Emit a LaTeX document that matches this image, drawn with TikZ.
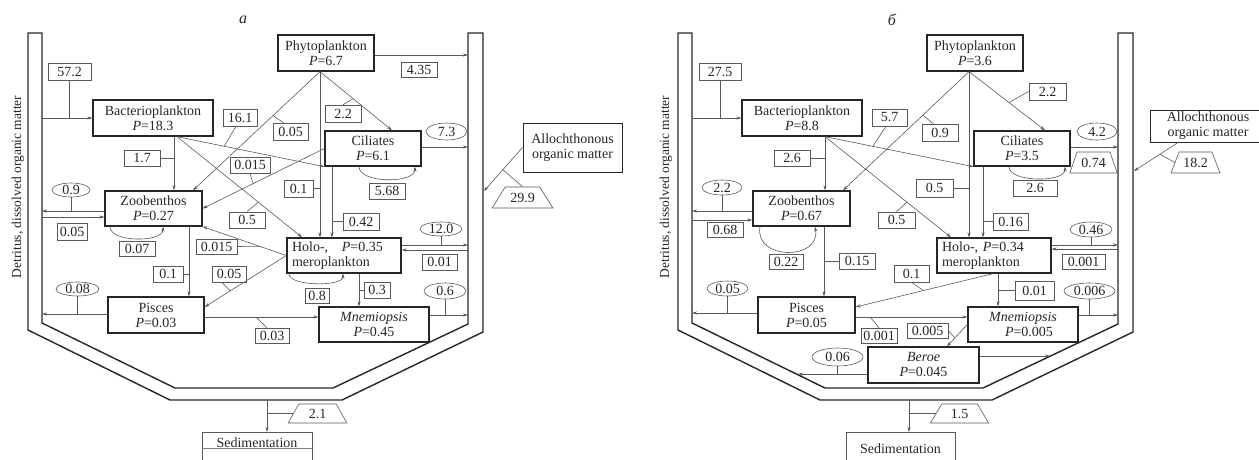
\documentclass[tikz,border=0pt]{standalone}
\usepackage{fontspec}
\setmainfont{Liberation Serif}
\usetikzlibrary{arrows.meta,shapes.geometric,calc}
\begin{document}
\begin{tikzpicture}[x=1pt,y=-1pt,
  every node/.style={font=\fontsize{14}{15}\selectfont, text=black!85},
  nbox/.style={draw=black!85, line width=1.3pt, inner sep=0pt, align=center},
  lab/.style={draw=black!65, line width=0.6pt, inner sep=0pt, minimum height=16pt},
  ell/.style={ellipse, draw=black!65, line width=0.6pt, inner sep=0pt, text height=9pt, text depth=0pt},
  trap/.style={trapezium, draw=black!65, line width=0.6pt, inner xsep=5pt, inner ysep=0pt, text height=15pt, text depth=6pt},
  ln/.style={draw=black!65, line width=0.6pt},
  arr/.style={ln, -{Stealth[length=5pt,width=3.2pt]}},
  wall/.style={draw=black!85, line width=1.4pt, line join=miter},
]
\useasboundingbox (0,0) rectangle (1259,459);

% ---------- vessels ----------
\draw[wall] (28,33) -- (28,330) -- (170,400) -- (342,400) -- (483,332) -- (483,33) -- (468,33) -- (468,324) -- (333,388) -- (175,388) -- (42,323) -- (42,33) -- cycle;
\draw[wall] (678,33) -- (678,330) -- (820,400) -- (992,400) -- (1133,332) -- (1133,33) -- (1118,33) -- (1118,324) -- (983,388) -- (825,388) -- (692,323) -- (692,33) -- cycle;

% ---------- titles and side labels ----------
\node[font=\fontsize{16}{16}\selectfont] (ta) at (243,20) {\textit{a}};
\node[font=\fontsize{16}{16}\selectfont] (tb) at (892,20) {\textit{б}};
\node[rotate=90, font=\fontsize{13.5}{14}\selectfont] (dA) at (18,187) {Detritus, dissolved organic matter};
\node[rotate=90, font=\fontsize{13.5}{14}\selectfont] (dB) at (666,187) {Detritus, dissolved organic matter};

% ================= PANEL a =================
\node[nbox, minimum width=96pt, minimum height=36pt] (phyA) at (326,53) {Phytoplankton\\\textit{P}=6.7};
\node[nbox, minimum width=120pt, minimum height=36pt] (bacA) at (153,118) {Bacterioplankton\\\textit{P}=18.3};
\node[nbox, minimum width=96pt, minimum height=35pt] (cilA) at (373,148.5) {Ciliates\\\textit{P}=6.1};
\node[nbox, minimum width=97pt, minimum height=35pt] (zooA) at (153.5,208.5) {Zoobenthos\\\textit{P}=0.27};
\node[nbox, minimum height=35pt, inner xsep=5pt, text width=104pt, align=left] (holA) at (344,255.5) {Holo-,\hspace{9pt} \textit{P}=0.35\\meroplankton};
\node[nbox, minimum width=96pt, minimum height=36pt] (pisA) at (156,315) {Pisces\\\textit{P}=0.03};
\node[nbox, minimum width=110pt, minimum height=35pt] (mneA) at (374,324.5) {\textit{Mnemiopsis}\\\textit{P}=0.45};
\node[nbox, line width=1pt, minimum width=99pt, minimum height=49pt] (allA) at (572.5,147.5) {Allochthonous\\organic matter};
\node[draw=black!65, line width=0.7pt, anchor=north, minimum width=110pt, inner sep=0pt, text height=15pt, text depth=25pt] (sedA) at (257,432) {Sedimentation};

% labels a
\node[lab, minimum width=43pt, minimum height=17pt] (l572) at (69.5,71.5) {57.2};
\node[lab, minimum width=36pt, minimum height=15pt] (l435) at (419,69.5) {4.35};
\node[lab, minimum width=36pt, minimum height=17pt] (l22a) at (343,113.5) {2.2};
\node[lab, minimum width=34pt, minimum height=17pt] (l161) at (240,117.5) {16.1};
\node[lab, minimum width=35pt, minimum height=17pt] (l005a) at (290.5,131.5) {0.05};
\node[lab, minimum width=36pt] (l17) at (142,158) {1.7};
\node[lab, minimum width=40pt] (l0015a) at (250,165) {0.015};
\node[lab, minimum width=29pt, minimum height=17pt] (l01a) at (298.5,188.5) {0.1};
\node[lab, minimum width=36pt, minimum height=17pt] (l042) at (361,221.5) {0.42};
\node[lab, minimum width=36pt] (l05a) at (247,220) {0.5};
\node[lab, minimum width=41pt, minimum height=15pt] (l0015b) at (216.5,246.5) {0.015};
\node[lab, minimum width=34pt] (l005b) at (229,274) {0.05};
\node[lab, minimum width=30pt] (l01b) at (168,274) {0.1};
\node[lab, minimum width=36pt, minimum height=15pt] (l007) at (137,248.5) {0.07};
\node[lab, minimum width=30pt, minimum height=17pt] (l005c) at (72,231.5) {0.05};
\node[lab, minimum width=34pt, minimum height=15pt] (l003) at (272,335.5) {0.03};
\node[lab, minimum width=26pt] (l03) at (377,290) {0.3};
\node[lab, minimum width=24pt, minimum height=15pt] (l08) at (317,295.5) {0.8};
\node[lab, minimum width=35pt] (l001a) at (439.5,262) {0.01};
\node[lab, minimum width=36pt] (l568) at (387,191) {5.68};
\node[ell, minimum width=38pt, minimum height=14pt] (e09) at (71,190) {0.9};
\node[ell, minimum width=43pt, minimum height=14pt] (e008) at (77.5,289) {0.08};
\node[ell, minimum width=42pt, minimum height=14pt] (e120) at (441,229) {12.0};
\node[ell, minimum width=42pt, minimum height=16pt] (e06) at (445,291) {0.6};
\node[ell, minimum width=41pt, minimum height=17pt] (e73) at (446.5,131.5) {7.3};
\node[trap, trapezium left angle=58, trapezium right angle=58, inner xsep=5pt] (t299) at (522.5,197.5) {29.9};
\node[trap, trapezium left angle=61, trapezium right angle=61, inner xsep=10pt, text height=14pt, text depth=5pt] (t21) at (317.5,413.5) {2.1};

% coordinates a
\coordinate (aW1) at (42,118);
\coordinate (aR1) at (468,55);
\coordinate (aR2) at (468,147);
\coordinate (aW2) at (42,211);
\coordinate (aW3) at (42,217);
\coordinate (aR3) at (468,245);
\coordinate (aR4) at (468,250);
\coordinate (aW4) at (42,314);
\coordinate (aR5) at (468,315);
\coordinate (aO1) at (484,191);
\coordinate (aB) at (267,400);
\coordinate (aPM) at (0,317);
\coordinate (pA) at ([xshift=-6pt]phyA.south);
\coordinate (bA) at ([xshift=24pt]bacA.south);
\coordinate (bvA) at ([xshift=21pt]bacA.south);
\coordinate (cA) at ([xshift=-41pt]cilA.south);
\coordinate (zA) at ([xshift=35.5pt]zooA.south);
\coordinate (hmA) at ([xshift=15pt]holA.south);
\coordinate (pisinA) at ([yshift=8pt]pisA.east);
\coordinate (cilTA) at ([xshift=19pt]cilA.north);
\coordinate (zooTA) at ([xshift=39.5pt]zooA.north);
\coordinate (holTA) at ([xshift=-42pt]holA.north);

% edges a
\draw[arr] (aW1) -- (bacA.west);
\draw[arr] (phyA.east |- aR1) -- (aR1);
\draw[arr] (pA) -- coordinate[pos=0.46] (c22a) (cilTA);
\draw[arr] (pA) -- (pA |- holA.north);
\draw[arr] (cA) -- (cA |- holA.north);
\draw[arr] (pA) -- coordinate[pos=0.37] (c005a) (zooTA);
\draw[arr] (bvA) -- (bvA |- zooA.north);
\draw[arr] (bA) -- coordinate[pos=0.65] (c05a) (holTA);
\draw[arr] (bA) -- coordinate[pos=0.32] (c161) (cilA.south west);
\draw[arr] (cilA.west) -- coordinate[pos=0.585] (c0015a) (zooA.east);
\draw[arr] (holA.west) -- coordinate[pos=0.305] (c0015b) (zooA.south east);
\draw[arr] (holA.west) -- coordinate[pos=0.687] (c005b) (pisinA);
\draw[arr] (zA) -- (zA |- pisA.north);
\draw[arr] ([xshift=-43.5pt]zooA.south) .. controls +(0,16) and +(0,16) .. ([xshift=9.5pt]zooA.south);
\draw[arr] (zooA.west |- aW2) -- (aW2);
\draw[arr] (aW3) -- (zooA.west |- aW3);
\draw[arr] (pisA.west |- aW4) -- (aW4);
\draw[arr] (pisA.east |- aPM) -- coordinate[pos=0.45] (c003) (mneA.west |- aPM);
\draw[arr] (hmA) -- (hmA |- mneA.north);
\draw[arr] ([xshift=-55pt]holA.south) .. controls +(0,13) and +(0,13) .. ([xshift=-1pt]holA.south);
\draw[arr] (holA.east |- aR3) -- (aR3);
\draw[arr] (aR4) -- (holA.east |- aR4);
\draw[arr] (mneA.east |- aR5) -- (aR5);
\draw[arr] (cilA.east |- aR2) -- (aR2);
\draw[arr] ([xshift=-14pt]cilA.south) .. controls +(0,17) and +(0,17) .. ([xshift=42pt]cilA.south);
\draw[arr] (allA.west) -- coordinate[pos=0.51] (c299) (aO1);
\draw[arr] (aB) -- (aB |- sedA.north);

% ticks a
\draw[ln] (l572.south) -- (l572.south |- aW1);
\draw[ln] (l22a.north) -- (c22a);
\draw[ln] (l01a.east) -- (l01a.east -| pA);
\draw[ln] (l042.west) -- (l042.west -| cA);
\draw[ln] ([xshift=-4pt]l161.south) -- (c161);
\draw[ln] ([xshift=-7pt]l005a.north) -- (c005a);
\draw[ln] (l17.east) -- (l17.east -| bvA);
\draw[ln] (l05a.north) -- (c05a);
\draw[ln] (l0015a.south) -- (c0015a);
\draw[ln] (l0015b.east) -- (c0015b);
\draw[ln] ([xshift=-7pt]l005b.south) -- (c005b);
\draw[ln] (l01b.east) -- (l01b.east -| zA);
\draw[ln] (e09.south) -- (e09.south |- aW2);
\draw[ln] (e008.south) -- (e008.south |- aW4);
\draw[ln] ([xshift=-5pt]l003.north) -- (c003);
\draw[ln] (l03.west) -- (l03.west -| hmA);
\draw[ln] (e120.south) -- (e120.south |- aR3);
\draw[ln] (e06.south) -- (e06.south |- aR5);
\draw[ln] (t299.north) -- (c299);
\draw[ln] (t21.west -| aB) -- (t21.west);
\draw[black!50, line width=0.5pt] (sedA.west |- 0,448) -- (sedA.east |- 0,448);

% ================= PANEL b =================
\node[nbox, minimum width=96pt, minimum height=36pt] (phyB) at (975,53) {Phytoplankton\\\textit{P}=3.6};
\node[nbox, minimum width=120pt, minimum height=36pt] (bacB) at (802,118) {Bacterioplankton\\\textit{P}=8.8};
\node[nbox, minimum width=96pt, minimum height=35pt] (cilB) at (1022,148.5) {Ciliates\\\textit{P}=3.5};
\node[nbox, minimum width=97pt, minimum height=35pt] (zooB) at (801.5,208.5) {Zoobenthos\\\textit{P}=0.67};
\node[nbox, minimum height=35pt, inner xsep=5pt, text width=104pt, align=left] (holB) at (994,255.5) {Holo-, \textit{P}=0.34\\meroplankton};
\node[nbox, minimum width=97pt, minimum height=36pt] (pisB) at (806.5,315) {Pisces\\\textit{P}=0.05};
\node[nbox, minimum width=110pt, minimum height=35pt] (mneB) at (1023,324.5) {\textit{Mnemiopsis}\\\hspace{12pt}\textit{P}=0.005};
\node[nbox, minimum width=111pt, minimum height=36pt] (berB) at (923.5,365) {\textit{Beroe}\\\textit{P}=0.045};
\node[nbox, line width=1pt, minimum width=116pt, minimum height=32pt] (allB) at (1208,126) {Allochthonous\\organic matter};
\node[draw=black!65, line width=0.7pt, anchor=north, minimum width=109pt, inner sep=0pt, text height=21pt, text depth=20pt] (sedB) at (900.5,432) {Sedimentation};

% labels b
\node[lab, minimum width=42pt, minimum height=17pt] (l275) at (720,71.5) {27.5};
\node[lab, minimum width=36pt] (l26a) at (792,158) {2.6};
\node[lab, minimum width=36pt, minimum height=17pt] (l09) at (940,132.5) {0.9};
\node[lab, minimum width=35pt, minimum height=17pt] (l57) at (889.5,117.5) {5.7};
\node[lab, minimum width=37pt] (l05d) at (896.5,220) {0.5};
\node[lab, minimum width=37pt, minimum height=18pt] (l05e) at (934.5,188) {0.5};
\node[lab, minimum width=35pt, minimum height=17pt] (l016) at (1010.5,221.5) {0.16};
\node[lab, minimum width=37pt, minimum height=17pt] (l22b) at (1047.5,91.5) {2.2};
\node[lab, minimum width=44pt] (l26b) at (1035,188) {2.6};
\node[lab, minimum width=36pt, minimum height=15pt] (l068) at (725,229.5) {0.68};
\node[lab, minimum width=34pt, minimum height=15pt] (l022) at (786,261.5) {0.22};
\node[lab, minimum width=36pt] (l015) at (857,261) {0.15};
\node[lab, minimum width=35pt, minimum height=17pt] (l01c) at (911.5,273.5) {0.1};
\node[lab, minimum width=39pt, minimum height=19pt] (l001b) at (1034.5,290.5) {0.01};
\node[lab, minimum width=43pt, minimum height=15pt] (l0001) at (1083.5,261.5) {0.001};
\node[lab, minimum width=36pt, minimum height=15pt] (l0001b) at (879,335.5) {0.001};
\node[lab, minimum width=41pt, minimum height=15pt] (l0005) at (927.5,330.5) {0.005};
\node[ell, minimum width=40pt, minimum height=17pt] (e42) at (1097,131.5) {4.2};
\node[ell, minimum width=40pt, minimum height=15pt] (e22) at (722,187.5) {2.2};
\node[ell, minimum width=42pt, minimum height=15pt] (e046) at (1091,229.5) {0.46};
\node[ell, minimum width=51pt, minimum height=16pt] (e0006) at (1089.5,291) {0.006};
\node[ell, minimum width=51pt, minimum height=18pt] (e006) at (837.5,357) {0.06};
\node[ell, minimum width=41pt, minimum height=15pt] (e005) at (727.5,288.5) {0.05};
\node[trap, trapezium left angle=71, trapezium right angle=71, inner xsep=4.2pt] (t074) at (1093.5,162.5) {0.74};
\node[trap, trapezium left angle=69, trapezium right angle=69, inner xsep=4.2pt] (t182) at (1195.5,162.5) {18.2};
\node[trap, trapezium left angle=59, trapezium right angle=59, inner xsep=9pt, text height=14pt, text depth=5pt] (t15) at (959.5,413.5) {1.5};

% coordinates b
\coordinate (bW1) at (692,118);
\coordinate (bR2) at (1118,147);
\coordinate (bW2) at (692,211);
\coordinate (bW3) at (692,220);
\coordinate (bR3) at (1118,245);
\coordinate (bR4) at (1118,249);
\coordinate (bW4) at (692,313);
\coordinate (bR5) at (1118,315);
\coordinate (bO1) at (1134,171);
\coordinate (bB) at (909,400);
\coordinate (bPM) at (0,317);
\coordinate (bD1) at (798,374);
\coordinate (bD2) at (1050,356);
\coordinate (pB) at ([xshift=-6pt]phyB.south);
\coordinate (bB0) at ([xshift=23pt]bacB.south);
\coordinate (zooTB) at ([xshift=41.5pt]zooB.north);
\coordinate (holTB) at ([xshift=-43pt]holB.north);
\coordinate (cB) at ([xshift=-39pt]cilB.south);
\coordinate (cilTB) at ([xshift=23pt]cilB.north);
\coordinate (zB) at ([xshift=22.5pt]zooB.south);
\coordinate (hpB) at ([xshift=-1pt]holB.south);
\coordinate (hmB) at ([xshift=4pt]holB.south);
\coordinate (pisinB) at ([yshift=8pt]pisB.east);
\coordinate (berTB) at ([xshift=23.5pt]berB.north);
\coordinate (allPB) at ([xshift=-30pt]allB.south);

% edges b
\draw[arr] (bW1) -- (bacB.west);
\draw[arr] (bB0) -- (bB0 |- zooB.north);
\draw[arr] (pB) -- coordinate[pos=0.365] (c09) (zooTB);
\draw[arr] (bB0) -- coordinate[pos=0.322] (c57) (cilB.south west);
\draw[arr] (bB0) -- coordinate[pos=0.65] (c05d) (holTB);
\draw[arr] (pB) -- (pB |- holB.north);
\draw[arr] (cB) -- (cB |- holB.north);
\draw[arr] (pB) -- coordinate[pos=0.526] (c22b) (cilTB);
\draw[arr] (cilB.east |- bR2) -- (bR2);
\draw[arr] ([xshift=-13pt]cilB.south) .. controls +(0,16) and +(0,16) .. ([xshift=43pt]cilB.south);
\draw[arr] (allPB) -- coordinate[pos=0.41] (c182) (bO1);
\draw[arr] (zooB.west |- bW2) -- (bW2);
\draw[arr] (bW3) -- (zooB.west |- bW3);
\draw[arr] ([xshift=-41.5pt]zooB.south) .. controls +(-6,34) and +(6,34) .. ([xshift=13.5pt]zooB.south);
\draw[arr] (zB) -- (zB |- pisB.north);
\draw[arr] (hpB) -- coordinate[pos=0.507] (c01c) (pisinB);
\draw[arr] (hmB) -- (hmB |- mneB.north);
\draw[arr] (holB.east |- bR3) -- (bR3);
\draw[arr] (bR4) -- (holB.east |- bR4);
\draw[arr] (mneB.east |- bR5) -- (bR5);
\draw[arr] (pisB.east |- bPM) -- coordinate[pos=0.13] (c0001b) (mneB.west |- bPM);
\draw[arr] (mneB.west) -- coordinate[pos=0.62] (c0005) (berTB);
\draw[arr] (berB.west |- bD1) -- (bD1);
\draw[arr] (berB.east |- bD2) -- (bD2);
\draw[arr] (pisB.west |- bW4) -- (bW4);
\draw[arr] (bB) -- (bB |- sedB.north);

% ticks b
\draw[ln] (l275.south) -- (l275.south |- bW1);
\draw[ln] (l26a.east) -- (l26a.east -| bB0);
\draw[ln] ([xshift=-7pt]l09.north) -- (c09);
\draw[ln] ([xshift=-3.5pt]l57.south) -- (c57);
\draw[ln] (l05d.north) -- (c05d);
\draw[ln] (l05e.east) -- (l05e.east -| pB);
\draw[ln] (l016.west) -- (l016.west -| cB);
\draw[ln] (l22b.west) -- (c22b);
\draw[ln] (c182) -- (t182.west);
\draw[ln] (e22.south) -- (e22.south |- bW2);
\draw[ln] (l015.west) -- (l015.west -| zB);
\draw[ln] (l01c.south) -- (c01c);
\draw[ln] (l001b.west) -- (l001b.west -| hmB);
\draw[ln] (e046.south) -- (e046.south |- bR3);
\draw[ln] (e0006.south) -- (e0006.south |- bR5);
\draw[ln] (l0001b.north) -- (c0001b);
\draw[ln] (l0005.east) -- (c0005);
\draw[ln] (e006.south) -- (e006.south |- bD1);
\draw[ln] (e005.south) -- (e005.south |- bW4);
\draw[ln] (t15.west -| bB) -- (t15.west);
\end{tikzpicture}
\end{document}
